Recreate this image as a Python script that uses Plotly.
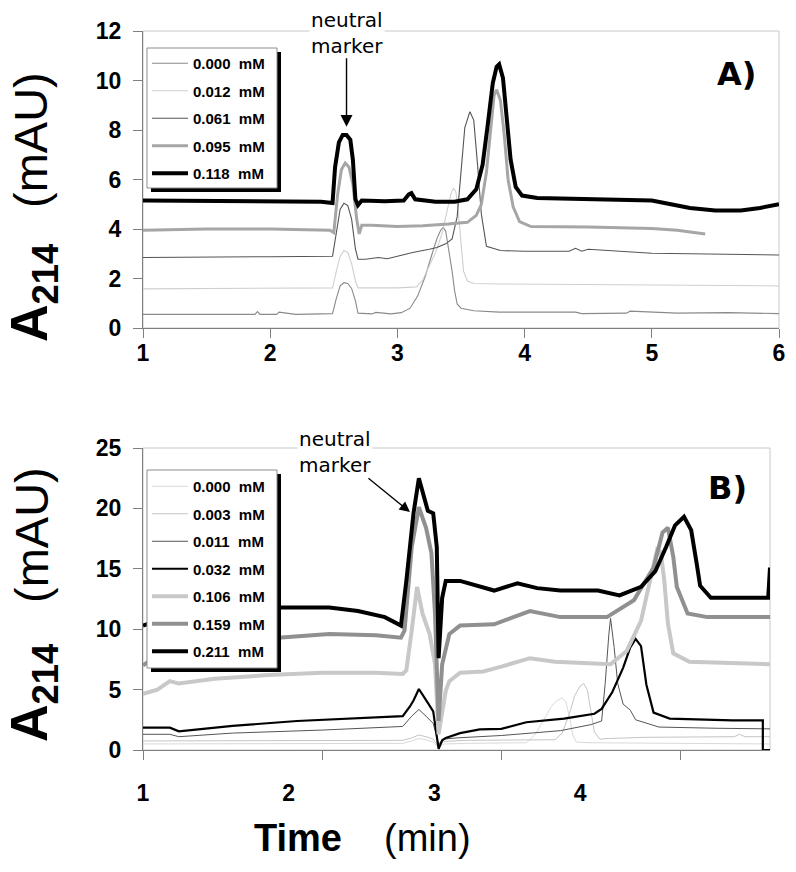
import plotly.graph_objects as go

W, H = 796, 872

# ---------------- Panel A data (time in min, A214 in mAU) ----------------
A_LABELS = ["0.000\u00a0 mM", "0.012\u00a0 mM", "0.061\u00a0 mM", "0.095\u00a0 mM", "0.118\u00a0 mM"]

A_T_000 = [1.00, 1.60, 1.88, 1.90, 1.92, 2.05, 2.07, 2.20, 2.22, 2.49, 2.52, 2.55, 2.58, 2.61, 2.64, 2.67, 2.69,
           2.80, 2.83, 2.95, 3.03, 3.10, 3.16, 3.22, 3.27, 3.31, 3.34, 3.36, 3.38, 3.41, 3.43, 3.45, 3.47, 3.50,
           3.60, 3.80, 4.40, 4.45, 4.80, 4.83, 5.20, 5.60, 6.00]
A_V_000 = [0.55, 0.55, 0.55, 0.66, 0.55, 0.55, 0.64, 0.55, 0.55, 0.58, 1.20, 1.70, 1.83, 1.80, 1.60, 1.10, 0.60,
           0.57, 0.63, 0.57, 0.62, 0.80, 1.30, 2.10, 2.95, 3.60, 3.95, 4.07, 3.90, 3.00, 2.30, 1.50, 0.97, 0.80,
           0.70, 0.64, 0.64, 0.58, 0.60, 0.68, 0.60, 0.62, 0.58]

A_T_012 = [1.00, 2.00, 2.49, 2.52, 2.55, 2.58, 2.61, 2.64, 2.67, 2.69, 3.00, 3.15, 3.20, 3.25, 3.30, 3.35, 3.39,
           3.42, 3.44, 3.46, 3.48, 3.50, 3.52, 3.55, 3.60, 3.80, 4.50, 5.00, 6.00]
A_V_012 = [1.58, 1.60, 1.62, 2.30, 2.90, 3.13, 3.05, 2.60, 1.90, 1.62, 1.62, 1.66, 1.95, 2.50, 3.05, 3.80, 4.70,
           5.40, 5.65, 5.50, 4.60, 3.30, 2.30, 1.90, 1.80, 1.78, 1.75, 1.72, 1.70]

A_T_061 = [1.00, 1.50, 2.00, 2.49, 2.52, 2.55, 2.58, 2.61, 2.64, 2.67, 2.69, 2.75, 2.85, 2.92, 3.00, 3.12, 3.25,
           3.31, 3.38, 3.43, 3.47, 3.50, 3.53, 3.57, 3.60, 3.63, 3.66, 3.70, 3.81, 4.00, 4.35, 4.40, 4.45, 4.50,
           5.00, 6.00]
A_V_061 = [2.85, 2.85, 2.88, 2.90, 3.80, 4.80, 5.04, 4.95, 4.40, 3.20, 2.78, 2.78, 2.85, 2.80, 2.90, 3.05, 3.18,
           3.25, 3.40, 3.60, 4.50, 6.30, 8.10, 8.74, 8.40, 6.60, 4.60, 3.30, 3.13, 3.10, 3.10, 3.22, 3.10, 3.18,
           3.02, 2.95]

A_T_095 = [1.00, 1.50, 2.00, 2.30, 2.47, 2.50, 2.53, 2.56, 2.59, 2.62, 2.65, 2.68, 2.70, 2.72, 2.80, 3.00, 3.20,
           3.40, 3.55, 3.62, 3.66, 3.70, 3.73, 3.76, 3.78, 3.81, 3.84, 3.87, 3.91, 3.96, 4.05, 4.50, 5.00, 5.20,
           5.42]
A_V_095 = [3.95, 4.00, 4.00, 3.98, 3.95, 3.85, 5.40, 6.40, 6.67, 6.50, 5.80, 4.40, 3.80, 4.15, 4.15, 4.10, 4.13,
           4.20, 4.27, 4.55, 5.00, 6.30, 8.00, 9.40, 9.63, 9.20, 7.80, 6.00, 4.90, 4.30, 4.10, 4.08, 4.02, 3.95,
           3.80]

A_T_118 = [1.00, 1.50, 2.00, 2.40, 2.49, 2.51, 2.54, 2.57, 2.60, 2.63, 2.65, 2.67, 2.69, 2.72, 2.90, 3.05, 3.09,
           3.11, 3.14, 3.30, 3.45, 3.55, 3.62, 3.67, 3.71, 3.75, 3.78, 3.80, 3.83, 3.86, 3.89, 3.93, 3.98, 4.10,
           4.50, 5.00, 5.15, 5.30, 5.50, 5.70, 5.85, 6.00]
A_V_118 = [5.15, 5.12, 5.12, 5.10, 5.05, 6.50, 7.50, 7.80, 7.80, 7.60, 6.80, 5.20, 4.96, 5.15, 5.12, 5.15, 5.40,
           5.45, 5.20, 5.10, 5.10, 5.20, 5.60, 6.60, 8.20, 9.90, 10.55, 10.65, 10.10, 8.60, 6.80, 5.70, 5.35, 5.25,
           5.20, 5.15, 5.00, 4.85, 4.75, 4.75, 4.85, 5.00]

A_TIMES = [A_T_000, A_T_012, A_T_061, A_T_095, A_T_118]
A_VALUES = [A_V_000, A_V_012, A_V_061, A_V_095, A_V_118]
A_XTICKS = [1, 2, 3, 4, 5, 6]
A_YTICKS = [0, 2, 4, 6, 8, 10, 12]

# ---------------- Panel B data ----------------
B_LABELS = ["0.000\u00a0 mM", "0.003\u00a0 mM", "0.011\u00a0 mM", "0.032\u00a0 mM",
            "0.106\u00a0 mM", "0.159\u00a0 mM", "0.211\u00a0 mM"]

B_T_000 = [1.00, 1.50, 2.00, 2.45, 2.50, 2.54, 2.58, 2.62, 2.65, 2.68, 2.80, 3.00, 3.14, 3.19, 3.24, 3.28, 3.31,
           3.34, 3.36, 3.38, 3.40, 3.42, 3.50, 4.00, 4.50]
B_V_000 = [0.50, 0.50, 0.55, 0.55, 0.75, 0.95, 0.85, 0.65, 0.20, 0.50, 0.55, 0.55, 0.60, 1.30, 2.60, 3.60, 4.10,
           4.30, 4.00, 2.80, 1.20, 0.65, 0.60, 0.55, 0.50]

B_T_003 = [1.00, 2.00, 2.45, 2.50, 2.54, 2.58, 2.62, 2.65, 2.68, 2.80, 3.00, 3.30, 3.34, 3.38, 3.41, 3.44, 3.46,
           3.48, 3.50, 3.52, 3.55, 3.60, 3.80, 4.30, 4.33, 4.36, 4.50]
B_V_003 = [0.75, 0.80, 0.80, 1.00, 1.25, 1.10, 0.90, 0.30, 0.70, 0.80, 0.80, 0.85, 1.40, 3.00, 4.50, 5.30, 5.50,
           5.00, 3.20, 1.50, 0.90, 0.95, 1.05, 1.10, 1.30, 1.10, 1.10]

B_T_011 = [1.00, 1.15, 1.20, 1.50, 2.00, 2.45, 2.50, 2.54, 2.58, 2.62, 2.65, 2.68, 2.75, 3.00, 3.33, 3.50, 3.56,
           3.58, 3.60, 3.61, 3.63, 3.65, 3.68, 3.72, 3.75, 3.88, 4.20, 4.50]
B_V_011 = [1.30, 1.30, 1.10, 1.40, 1.65, 1.95, 2.80, 3.35, 2.80, 2.20, 0.50, 0.90, 1.00, 1.20, 1.60, 2.10, 2.40,
           5.50, 9.50, 10.90, 8.50, 5.50, 3.80, 3.30, 2.50, 1.90, 1.80, 1.75]

B_T_032 = [1.00, 1.15, 1.20, 1.30, 1.50, 1.86, 2.20, 2.45, 2.49, 2.51, 2.54, 2.57, 2.59, 2.62, 2.64, 2.65, 2.67,
           2.69, 2.77, 2.88, 3.00, 3.14, 3.35, 3.52, 3.56, 3.62, 3.68, 3.72, 3.75, 3.78, 3.81, 3.85, 3.94, 4.29,
           4.46, 4.46, 4.50]
B_V_032 = [1.85, 1.85, 1.55, 1.70, 2.00, 2.40, 2.60, 2.80, 3.60, 4.10, 5.05, 4.30, 3.90, 3.20, 1.00, 0.10, 0.80,
           1.00, 1.40, 1.70, 1.75, 2.30, 2.60, 3.00, 3.40, 4.80, 6.80, 8.50, 9.20, 8.60, 5.40, 3.10, 2.60, 2.45,
           2.45, 0.00, 0.00]

B_T_106 = [1.00, 1.08, 1.15, 1.20, 1.40, 1.70, 2.00, 2.30, 2.45, 2.47, 2.50, 2.53, 2.56, 2.60, 2.63, 2.65, 2.69,
           2.71, 2.77, 2.90, 3.00, 3.16, 3.30, 3.61, 3.70, 3.78, 3.83, 3.87, 3.89, 3.91, 3.93, 3.96, 4.05, 4.50]
B_V_106 = [4.65, 5.00, 5.70, 5.50, 5.90, 6.20, 6.40, 6.40, 6.30, 6.60, 9.90, 13.50, 11.30, 9.60, 7.10, 1.30, 4.90,
           5.70, 6.40, 6.50, 6.90, 7.60, 7.30, 7.10, 8.20, 10.70, 14.00, 16.60, 16.40, 14.00, 10.50, 8.00, 7.30,
           7.10]

B_T_159 = [1.00, 1.10, 1.30, 1.75, 2.04, 2.30, 2.44, 2.46, 2.50, 2.54, 2.58, 2.61, 2.63, 2.65, 2.67, 2.71, 2.77,
           2.96, 3.16, 3.33, 3.59, 3.74, 3.85, 3.90, 3.93, 3.96, 3.98, 4.04, 4.15, 4.50]
B_V_159 = [7.00, 8.00, 8.80, 9.30, 9.60, 9.50, 9.30, 9.90, 16.80, 20.10, 18.40, 16.30, 11.30, 2.40, 7.10, 9.60,
           10.30, 10.40, 11.50, 11.00, 11.00, 12.40, 15.10, 18.00, 18.40, 16.00, 13.50, 11.30, 11.00, 11.00]

B_T_211 = [1.00, 1.10, 1.40, 1.75, 2.04, 2.20, 2.35, 2.44, 2.47, 2.51, 2.54, 2.56, 2.59, 2.62, 2.64, 2.65, 2.67,
           2.69, 2.77, 2.96, 3.09, 3.20, 3.33, 3.54, 3.66, 3.78, 3.86, 3.92, 3.97, 4.02, 4.06, 4.09, 4.11, 4.17,
           4.49, 4.50]
B_V_211 = [10.30, 10.80, 11.40, 11.80, 11.80, 11.50, 11.00, 10.30, 14.00, 19.60, 22.50, 21.50, 19.80, 19.60,
           16.80, 7.60, 12.60, 14.00, 14.00, 13.20, 13.80, 13.40, 13.20, 13.20, 12.80, 13.50, 14.80, 16.80, 18.60,
           19.30, 18.20, 15.50, 13.60, 12.60, 12.60, 15.10]

B_TIMES = [B_T_000, B_T_003, B_T_011, B_T_032, B_T_106, B_T_159, B_T_211]
B_VALUES = [B_V_000, B_V_003, B_V_011, B_V_032, B_V_106, B_V_159, B_V_211]
B_XTICKS = [1, 2, 3, 4]
B_YTICKS = [0, 5, 10, 15, 20, 25]

# ---------------- styles ----------------
A_COLORS = ["#8a8a8a", "#cfcfcf", "#555555", "#a6a6a6", "#000000"]
A_WIDTHS = [1.1, 1.1, 1.1, 3, 4]
B_COLORS = ["#d9d9d9", "#c4c4c4", "#555555", "#000000", "#c8c8c8", "#909090", "#000000"]
B_WIDTHS = [1, 1, 1, 2.2, 4, 4, 4]

SANS = "Liberation Sans, Arial, sans-serif"
VERD = "DejaVu Sans, Verdana, sans-serif"
OFF = 8  # page body margin of the html page


def px(x):
    return (x - OFF) / W


def py(y):
    return 1 - (y - OFF) / H


fig = go.Figure()

for i, (t, v) in enumerate(zip(A_TIMES, A_VALUES)):
    fig.add_trace(go.Scatter(x=t, y=v, mode="lines", name=A_LABELS[i],
                             line=dict(color=A_COLORS[i], width=A_WIDTHS[i]),
                             xaxis="x", yaxis="y", legend="legend", legendgroup=f"a{i}"))

for i, (t, v) in enumerate(zip(B_TIMES, B_VALUES)):
    fig.add_trace(go.Scatter(x=t, y=v, mode="lines", name=B_LABELS[i],
                             line=dict(color=B_COLORS[i], width=B_WIDTHS[i]),
                             xaxis="x2", yaxis="y2", legend="legend2", legendgroup=f"b{i}"))

# helper trace for the label-only axis of panel B
fig.add_trace(go.Scatter(x=[], y=[], xaxis="x3", yaxis="y2", showlegend=False, hoverinfo="skip"))

tickfont = dict(family=SANS, size=23, color="black", weight="bold")
axis_common = dict(showline=True, linecolor="#7f7f7f", linewidth=1, ticks="outside", ticklen=9,
                   tickcolor="#7f7f7f", tickwidth=1, showgrid=False, zeroline=False, tickfont=tickfont,
                   automargin=False)
legfont = dict(family=SANS, size=15, color="black", weight="bold")

fig.update_layout(
    template="none",
    width=W, height=H, margin=dict(l=0, r=0, t=0, b=0, pad=0, autoexpand=False),
    paper_bgcolor="white", plot_bgcolor="white",
    xaxis=dict(domain=[px(143), px(779)], range=[1, 6], tickvals=A_XTICKS, anchor="y",
               ticklabelstandoff=-5, **axis_common),
    yaxis=dict(domain=[py(328), py(31)], range=[0, 12], tickvals=A_YTICKS, anchor="x",
               ticklabelstandoff=7, **axis_common),
    xaxis2=dict(domain=[px(143), px(770)], range=[1, 4.5], tickvals=B_XTICKS, anchor="y2",
                showticklabels=False, **axis_common),
    yaxis2=dict(domain=[py(750), py(448)], range=[0, 25], tickvals=B_YTICKS, anchor="x2",
                ticklabelstandoff=7, **axis_common),
    xaxis3=dict(overlaying="x2", anchor="y2", side="bottom", range=[1, 1 + 627 / 145.7],
                tickvals=B_XTICKS, showline=False, ticks="", showgrid=False, zeroline=False,
                tickfont=tickfont, ticklabelstandoff=27, automargin=False),
    legend=dict(x=px(147), y=py(47), xanchor="left", yanchor="top", bgcolor="rgba(0,0,0,0)",
                borderwidth=0, tracegroupgap=5, itemwidth=36, font=legfont),
    legend2=dict(x=px(147), y=py(470), xanchor="left", yanchor="top", bgcolor="rgba(0,0,0,0)",
                 borderwidth=0, tracegroupgap=5, itemwidth=36, font=legfont),
    showlegend=True,
)

shapes = []
# plot frames (light gray)
for xr, yr in (("x domain", "y domain"), ("x2 domain", "y2 domain")):
    shapes.append(dict(type="rect", xref=xr, yref=yr, x0=0, x1=1, y0=0, y1=1,
                       line=dict(color="#c8c8c8", width=1), layer="below"))
# legend boxes with drop shadows
for (l, t, r, b) in ((147, 48, 277, 188), (147, 470, 277, 668)):
    shapes.append(dict(type="rect", xref="paper", yref="paper", x0=px(l + 4), x1=px(r + 4),
                       y0=py(b + 4), y1=py(t + 4), fillcolor="black", line=dict(width=0), layer="above"))
    shapes.append(dict(type="rect", xref="paper", yref="paper", x0=px(l), x1=px(r),
                       y0=py(b), y1=py(t), fillcolor="white", line=dict(color="#8c8c8c", width=1),
                       layer="above"))
fig.update_layout(shapes=shapes)


def note(text, x, y, size, family=SANS, angle=0, bg=None):
    d = dict(text=text, xref="paper", yref="paper", x=px(x), y=py(y), showarrow=False,
             xanchor="center", yanchor="middle", textangle=angle,
             font=dict(family=family, size=size, color="black"))
    if bg:
        d["bgcolor"] = bg
    return d


ann = []
# neutral marker texts + arrows
ann.append(note("neutral<br>marker", 347, 33, 20, VERD, bg="white"))
ann.append(dict(text="", xref="x", yref="y", x=2.60, y=8.13, ax=0, ay=-70, showarrow=True,
                arrowhead=2, arrowsize=1.7, arrowwidth=1.4, arrowcolor="black"))
ann.append(note("neutral<br>marker", 335, 452, 20, VERD, bg="white"))
ann.append(dict(text="", xref="x2", yref="y2", x=2.49, y=19.7, ax=-43, ay=-35, showarrow=True,
                arrowhead=2, arrowsize=1.6, arrowwidth=1.3, arrowcolor="black"))
# panel letters
ann.append(note("<b>A)</b>", 736, 74, 32, VERD))
ann.append(note("<b>B)</b>", 727, 488, 32, VERD))
# y axis titles
for cy_unit, cy_a in ((140, 292), (535, 692)):
    ann.append(note("(mAU)", 31, cy_unit, 47, angle=-90))
    ann.append(note("<b>A<sub>214</sub></b>", 33, cy_a, 52, angle=-90))
# x axis title
ann.append(note("<b>Time</b>", 298, 838, 38))
ann.append(note("(min)", 427, 838, 38))
fig.update_layout(annotations=ann)

fig.write_html("out.html")
